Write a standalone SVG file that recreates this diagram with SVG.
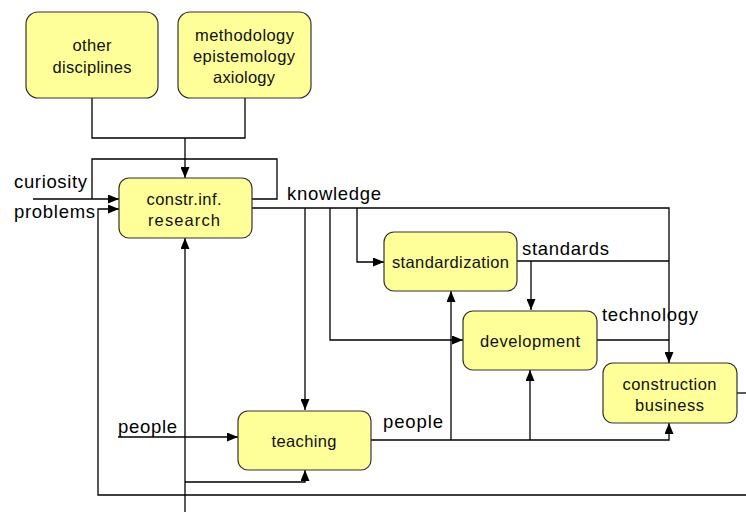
<svg xmlns="http://www.w3.org/2000/svg" width="746" height="512" viewBox="0 0 746 512">
<defs>
<marker id="arr" markerUnits="userSpaceOnUse" markerWidth="11" markerHeight="9" refX="11" refY="4.5" orient="auto">
<path d="M0,0 L11,4.5 L0,9 z" fill="#000"/>
</marker>
<style>
.node rect{fill:#ffff99;stroke:#333;stroke-width:1.2}
.nt{font-family:"Liberation Sans",Arial,sans-serif;font-size:16.5px;fill:#111;text-anchor:middle}
.lb{font-family:"Liberation Sans",Arial,sans-serif;font-size:18.5px;fill:#000}
.c path{fill:none;stroke:#000;stroke-width:1.3}
.c .a{marker-end:url(#arr)}
</style>
</defs>
<rect width="746" height="512" fill="#fff"/>
<g class="c" id="connectors">
<path d="M92,98 V138 H245 V98"/>
<path class="a" d="M185,138 V178"/>
<path d="M252,199 H277 V159 H92 V199"/>
<path class="a" d="M33,199 H119"/>
<path class="a" d="M746,495 H98 V209 H119"/>
<path d="M737,393 H746"/>
<path class="a" d="M185,512 V238"/>
<path class="a" d="M185,482 H305 V470"/>
<path class="a" d="M252,208 H669 V363"/>
<path class="a" d="M305,208 V410"/>
<path class="a" d="M330,208 V340 H463"/>
<path class="a" d="M357,208 V262 H384"/>
<path d="M517,261 H669"/>
<path class="a" d="M531,261 V310"/>
<path d="M597,340 H669"/>
<path class="a" d="M118,437 H238"/>
<path class="a" d="M371,440 H669 V423"/>
<path class="a" d="M451,440 V291"/>
<path class="a" d="M530,440 V370"/>
</g>
<g class="node" id="other-disciplines"><rect x="26" y="12" width="132" height="86" rx="12"/>
<text class="nt" x="92" y="51" textLength="39">other</text><text class="nt" x="92" y="73" textLength="79">disciplines</text></g>
<g class="node" id="methodology"><rect x="178" y="12" width="133" height="86" rx="12"/>
<text class="nt" x="244.5" y="41" textLength="99">methodology</text><text class="nt" x="244" y="62" textLength="102">epistemology</text><text class="nt" x="244" y="83" textLength="62">axiology</text></g>
<g class="node" id="research"><rect x="119" y="178" width="133" height="60" rx="10"/>
<text class="nt" x="184" y="205" textLength="75">constr.inf.</text><text class="nt" x="184" y="226" textLength="72">research</text></g>
<g class="node" id="standardization"><rect x="384" y="232" width="133" height="59" rx="10"/>
<text class="nt" x="450.5" y="267.5" textLength="117">standardization</text></g>
<g class="node" id="development"><rect x="463" y="311" width="134" height="59" rx="10"/>
<text class="nt" x="530" y="347" textLength="100">development</text></g>
<g class="node" id="construction-business"><rect x="603" y="363" width="134" height="60" rx="10"/>
<text class="nt" x="669.5" y="390" textLength="94">construction</text><text class="nt" x="669.5" y="411" textLength="69">business</text></g>
<g class="node" id="teaching"><rect x="238" y="411" width="133" height="59" rx="10"/>
<text class="nt" x="304" y="447" textLength="65">teaching</text></g>
<g id="labels">
<text class="lb" x="14" y="188" textLength="73">curiosity</text>
<text class="lb" x="14" y="218" textLength="81">problems</text>
<text class="lb" x="287" y="200" textLength="94">knowledge</text>
<text class="lb" x="522" y="255" textLength="87">standards</text>
<text class="lb" x="602" y="321" textLength="96">technology</text>
<text class="lb" x="118" y="433" textLength="59">people</text>
<text class="lb" x="383" y="428" textLength="60">people</text>
</g>
</svg>
